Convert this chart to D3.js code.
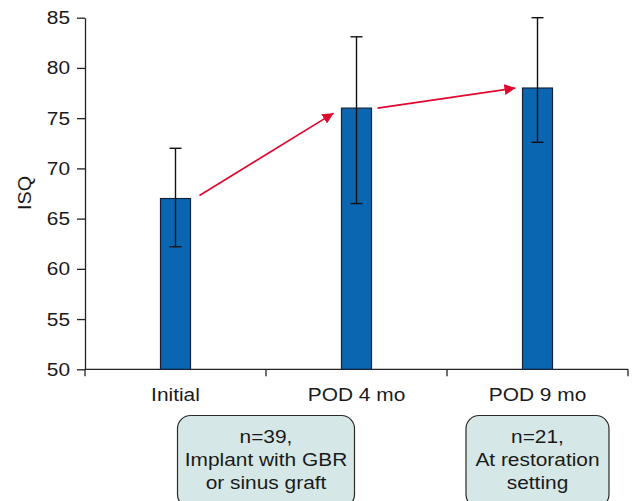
<!DOCTYPE html>
<html>
<head>
<meta charset="utf-8">
<script src="https://cdn.jsdelivr.net/npm/d3@7"></script>
<style>
  body { margin: 0; background: #fff; }
  text { font-family: "Liberation Sans", Arial, sans-serif; fill: #1a1a1a; }
</style>
</head>
<body>
<svg width="637" height="501"></svg>
<script>
// Data
var categories = ["Initial", "POD 4 mo", "POD 9 mo"];
var means = [67.0, 76.0, 78.0];
var upper = [72.0, 83.1, 85.0];
var lower = [62.2, 66.5, 72.6];
var yTicks = [50, 55, 60, 65, 70, 75, 80, 85];
var boxLines = [["n=39,", "Implant with GBR", "or sinus graft"], ["n=21,", "At restoration", "setting"]];

var svg = d3.select("svg");
var SX = 1.13; // the original text is a little wide
var FS = 18.5;

var x = d3.scaleBand()
  .domain(categories)
  .range([85, 628])
  .padding(0);

var y = d3.scaleLinear()
  .domain([50, 85])
  .range([369.3, 17.7]);

var barW = 30;

// y axis
var yAxis = svg.append("g")
  .attr("transform", "translate(85,0)")
  .call(d3.axisLeft(y).tickValues(yTicks).tickSize(8).tickSizeOuter(0).tickPadding(7));
yAxis.select(".domain").attr("stroke", "#222").attr("stroke-width", 1.3);
yAxis.selectAll(".tick line").attr("stroke", "#222").attr("stroke-width", 1.3);
yAxis.selectAll(".tick text")
  .attr("font-size", FS).attr("fill", "#1a1a1a")
  .attr("x", -15 / SX)
  .attr("transform", "scale(" + SX + ",1)")
  .style("font-family", "'Liberation Sans', Arial, sans-serif");

// x axis line + boundary ticks
var xg = svg.append("g");
xg.append("line")
  .attr("x1", 85).attr("x2", 628)
  .attr("y1", y(50)).attr("y2", y(50))
  .attr("stroke", "#222").attr("stroke-width", 1.3);
var bounds = categories.map(function(c) { return x(c); }).concat([x(categories[2]) + x.bandwidth()]);
xg.selectAll(".xt").data(bounds).enter().append("line")
  .attr("x1", function(d) { return d; }).attr("x2", function(d) { return d; })
  .attr("y1", y(50)).attr("y2", y(50) + 7)
  .attr("stroke", "#222").attr("stroke-width", 1.3);
xg.selectAll(".xl").data(categories).enter().append("text")
  .attr("x", function(d) { return (x(d) + x.bandwidth() / 2) / SX; })
  .attr("y", 401)
  .attr("transform", "scale(" + SX + ",1)")
  .attr("text-anchor", "middle")
  .attr("font-size", FS)
  .text(function(d) { return d; });

// y label
svg.append("text")
  .attr("transform", "translate(31,193) rotate(-90) scale(1.07,1)")
  .attr("text-anchor", "middle")
  .attr("font-size", FS)
  .text("ISQ");

// bars
function cx(i) { return x(categories[i]) + x.bandwidth() / 2; }
svg.selectAll(".bar").data(means).enter().append("rect")
  .attr("x", function(d, i) { return cx(i) - barW / 2; })
  .attr("y", function(d) { return y(d); })
  .attr("width", barW)
  .attr("height", function(d) { return y(50) - y(d); })
  .attr("fill", "#0b66b2")
  .attr("stroke", "#14233a")
  .attr("stroke-width", 1.2);

// error bars
var eb = svg.append("g").attr("stroke", "#111").attr("stroke-width", 1.4);
means.forEach(function(m, i) {
  eb.append("line").attr("x1", cx(i)).attr("x2", cx(i)).attr("y1", y(upper[i])).attr("y2", y(lower[i]));
  eb.append("line").attr("x1", cx(i) - 6).attr("x2", cx(i) + 6).attr("y1", y(upper[i])).attr("y2", y(upper[i]));
  eb.append("line").attr("x1", cx(i) - 6).attr("x2", cx(i) + 6).attr("y1", y(lower[i])).attr("y2", y(lower[i]));
});

// arrows between bars
svg.append("defs").append("marker")
  .attr("id", "arr")
  .attr("viewBox", "0 0 10 10")
  .attr("refX", 10).attr("refY", 5)
  .attr("markerWidth", 11).attr("markerHeight", 11)
  .attr("markerUnits", "userSpaceOnUse")
  .attr("orient", "auto")
  .append("path").attr("d", "M0,0 L10,5 L0,10 Z").attr("fill", "#e0062d");

var arrowStart = [means[0] + 0.3, means[1]];
var arrowEnd = [means[1] - 0.5, means[2]];
[0, 1].forEach(function(i) {
  var xs = cx(i) + barW / 2 + (i === 0 ? 9 : 6);
  var xe = cx(i + 1) - barW / 2 - (i === 0 ? 8 : 7);
  svg.append("line")
    .attr("x1", xs).attr("y1", y(arrowStart[i]))
    .attr("x2", xe).attr("y2", y(arrowEnd[i]))
    .attr("stroke", "#e0062d").attr("stroke-width", 1.6)
    .attr("marker-end", "url(#arr)");
});

// annotation boxes
var boxes = [
  { cx: x(categories[1]), w: 177 },
  { cx: cx(2), w: 143 }
];
boxes.forEach(function(b, i) {
  var g = svg.append("g");
  g.append("rect")
    .attr("x", b.cx - b.w / 2).attr("y", 415.5)
    .attr("width", b.w).attr("height", 92)
    .attr("rx", 13).attr("ry", 13)
    .attr("fill", "#d5e7e6").attr("stroke", "#2a2a2a").attr("stroke-width", 1.2);
  g.selectAll("text").data(boxLines[i]).enter().append("text")
    .attr("x", b.cx / SX)
    .attr("y", function(d, j) { return 443 + j * 23; })
    .attr("transform", "scale(" + SX + ",1)")
    .attr("text-anchor", "middle")
    .attr("font-size", FS)
    .text(function(d) { return d; });
});
</script>
</body>
</html>
